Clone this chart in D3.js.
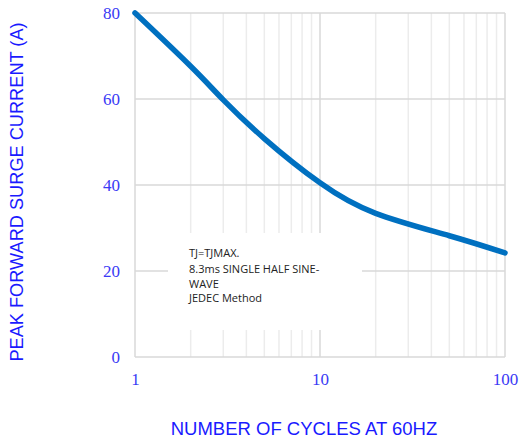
<!DOCTYPE html>
<html><head><meta charset="utf-8">
<script src="https://cdn.jsdelivr.net/npm/d3@7"></script>
<style>body{margin:0;background:#fff}svg{display:block}</style>
</head><body>
<svg id="c" width="520" height="441"></svg>
<script>
const cycles  = [1, 2, 3, 5, 10, 20, 50, 100];
const current = [80, 67.6, 59.8, 50.8, 40.5, 33.4, 28.2, 24.2];
const xTicks = [1, 10, 100];
const xMinor = [2,3,4,5,6,7,8,9,20,30,40,50,60,70,80,90];
const yTicks = [0, 20, 40, 60, 80];
const noteLines = ["TJ=TJMAX.", "8.3ms SINGLE HALF SINE-", "WAVE", "JEDEC Method"];
const xTitle = "NUMBER OF CYCLES AT 60HZ";
const yTitle = "PEAK FORWARD SURGE CURRENT (A)";

const svg = d3.select("#c");
const x = d3.scaleLog().domain([1, 100]).range([135, 505]);
const y = d3.scaleLinear().domain([0, 80]).range([357, 13]);

const g = svg.append("g");
g.selectAll(".minor").data(xMinor).join("line")
  .attr("x1", d => x(d)).attr("x2", d => x(d)).attr("y1", y(0)).attr("y2", y(80))
  .attr("stroke", "#ececec").attr("stroke-width", 1.5);
g.selectAll(".hg").data(yTicks).join("line")
  .attr("x1", x(1)).attr("x2", x(100)).attr("y1", d => y(d)).attr("y2", d => y(d))
  .attr("stroke", "#d9d9d9").attr("stroke-width", 1.5);
g.selectAll(".vg").data(xTicks).join("line")
  .attr("x1", d => x(d)).attr("x2", d => x(d)).attr("y1", y(0)).attr("y2", y(80))
  .attr("stroke", "#d9d9d9").attr("stroke-width", 1.5);

const xAxis = d3.axisBottom(x).tickValues(xTicks).tickFormat(d3.format("d")).tickSize(0).tickPadding(16);
const ax = svg.append("g").attr("transform", `translate(0,${y(0)})`).call(xAxis);
const yAxis = d3.axisLeft(y).tickValues(yTicks).tickSize(0).tickPadding(15);
const ay = svg.append("g").attr("transform", `translate(${x(1)},0)`).call(yAxis);
[ax, ay].forEach(a => {
  a.select(".domain").remove();
  a.selectAll("text").attr("font-family", "'Liberation Serif', 'Times New Roman', serif")
    .attr("font-size", 17).attr("fill", "#3a3af5");
});

svg.append("rect").attr("x", 168).attr("y", 233).attr("width", 194).attr("height", 97).attr("fill", "#fff");
svg.append("g").selectAll("text").data(noteLines).join("text")
  .attr("x", 189).attr("y", (d, i) => [257, 273, 288, 302][i])
  .attr("font-family", "'Open Sans', sans-serif").attr("font-size", 11)
  .attr("fill", "#222").text(d => d);

const line = d3.line().x((d, i) => x(cycles[i])).y(d => y(d)).curve(d3.curveNatural);
svg.append("path").datum(current).attr("d", line)
  .attr("fill", "none").attr("stroke", "#0070c0").attr("stroke-width", 5.5).attr("stroke-linecap", "round");

svg.append("text").attr("x", 304).attr("y", 435).attr("text-anchor", "middle")
  .attr("font-family", "'Liberation Sans', Arial, sans-serif").attr("font-size", 18.5)
  .attr("fill", "#1a1aff").text(xTitle);
svg.append("text").attr("transform", "translate(23,192) rotate(-90)").attr("text-anchor", "middle")
  .attr("font-family", "'Liberation Sans', Arial, sans-serif").attr("font-size", 18.2)
  .attr("fill", "#1a1aff").text(yTitle);
</script>
</body></html>
